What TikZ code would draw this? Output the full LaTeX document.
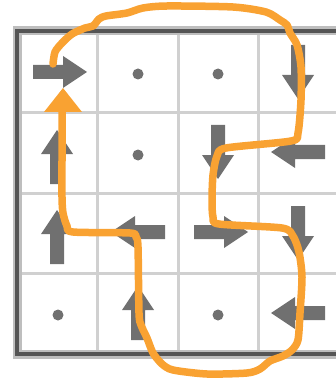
\documentclass[tikz,border=0pt]{standalone}
\definecolor{ora}{RGB}{249,162,50}
\definecolor{agray}{RGB}{112,112,112}
\definecolor{gline}{RGB}{208,208,208}
\definecolor{bord}{RGB}{85,85,85}
\definecolor{shad}{RGB}{190,190,190}
\begin{document}
\begin{tikzpicture}[x=1pt,y=-1pt,
  gridline/.style={draw=gline,line width=3pt},
  border/.style={draw=bord,line width=4.5pt,line join=miter},
  bshadow/.style={draw=shad,line width=9pt,line join=miter},
  dotmark/.style={fill=agray},
  pathline/.style={draw=ora,line width=7.5pt,line cap=round,line join=round},
  orahead/.style={fill=ora},
  garrow/.pic={\fill[agray] (-27,-7) -- (3,-7) -- (3,-16) -- (27,0) -- (3,16) -- (3,7) -- (-27,7) -- cycle;}]
\useasboundingbox (0,0) rectangle (336,382);
% grid lines
\foreach \x in {97,178,258} \draw[gridline] (\x,33) -- (\x,353);
\foreach \y in {113,193,273} \draw[gridline] (19,\y) -- (340,\y);
% border with soft shadow
\draw[bshadow] (345,31) -- (17,31) -- (17,354) -- (345,354);
\draw[border] (345,31) -- (17,31) -- (17,354) -- (345,354);
% dots
\foreach \p in {(138,74),(218,74),(138,155),(58,315),(218,315)} \fill[dotmark] \p circle (5.5);
% gray arrows
\path (60,72) pic[rotate=0] {garrow};
\path (298,72) pic[rotate=270] {garrow};
\path (57,157) pic[rotate=90] {garrow};
\path (218,152) pic[rotate=270] {garrow};
\path (298,152) pic[rotate=180] {garrow};
\path (57,237) pic[rotate=90] {garrow};
\path (138,232) pic[rotate=180] {garrow};
\path (221,232) pic[rotate=0] {garrow};
\path (298,233) pic[rotate=270] {garrow};
\path (138,313) pic[rotate=90] {garrow};
\path (298,313) pic[rotate=180] {garrow};
% orange loop
\draw[pathline] plot[smooth,tension=0.45] coordinates {
 (53,64) (55,52) (62,43) (72,34) (85,28) (93,26) (99,19) (106,16) (127,13) (143,8) (167,6)
 (233,7) (266,12) (280,20) (287,25) (290,33) (297,45) (301,67) (301,100) (298,133) (291,141)
 (226,148) (217,156) (213,175) (212,200) (213,217) (219,224) (282,228) (293,236) (299,252)
 (302,277) (300,313) (298,340) (292,350) (283,356) (270,361) (260,369) (247,373) (207,374)
 (173,370) (162,364) (153,353) (147,338) (141,325) (139,313) (138,247) (136,237) (130,233)
 (73,232) (67,226) (63,213) (62,197) (62,160) (62,112)};
\fill[orahead] (63,88) -- (44,112) -- (82,112) -- cycle;
\end{tikzpicture}
\end{document}
